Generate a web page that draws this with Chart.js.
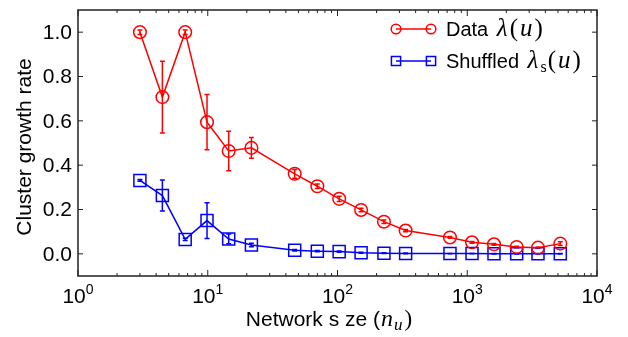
<!DOCTYPE html>
<html>
<head>
<meta charset="utf-8">
<script src="https://cdn.jsdelivr.net/npm/chart.js@4.4.0/dist/chart.umd.min.js"></script>
<style>
  html, body { margin: 0; padding: 0; background: #fff; }
  #wrap { width: 628px; height: 337px; position: relative; }
</style>
</head>
<body>
<div id="wrap"><canvas id="chart"></canvas></div>
<script>
// =============================
// DATOS
// =============================
const sizes = [3, 4.47, 6.7, 9.87, 14.5, 21.7, 46.8, 69.9, 103, 152, 228, 335, 736, 1088, 1607, 2404, 3509, 5213];

const dataRate = [1.0, 0.707, 1.0, 0.594, 0.464, 0.478, 0.361, 0.305, 0.248, 0.198, 0.145, 0.105, 0.074, 0.052, 0.043, 0.031, 0.028, 0.046];
const dataErr  = [0.01, 0.162, 0.01, 0.125, 0.089, 0.047, 0.02, 0.01, 0.012, 0.008, 0.008, 0.005, 0.004, 0.004, 0.004, 0.003, 0.003, 0.008];

const shuffledRate = [0.331, 0.263, 0.065, 0.150, 0.067, 0.040, 0.016, 0.012, 0.010, 0.005, 0.003, 0.002, 0.001, 0.001, 0.0, 0.0, 0.0, 0.0];
const shuffledErr  = [0.004, 0.07, 0.005, 0.081, 0.022, 0.008, 0.003, 0.003, 0.003, 0.002, 0.002, 0.002, 0.001, 0.001, 0.001, 0.001, 0.001, 0.001];

const xTicks = [1, 10, 100, 1000, 10000];
const xTickExp = ["0", "1", "2", "3", "4"];
const yTicks = [0, 0.2, 0.4, 0.6, 0.8, 1.0];
const yTickLabels = ["0.0", "0.2", "0.4", "0.6", "0.8", "1.0"];

const RED = "#ff0000";
const BLUE = "#0000ff";
const SANS = "'Liberation Sans', Arial, sans-serif";
const SERIF = "'Liberation Serif', 'Times New Roman', serif";

// =============================
// UTILIDADES
// =============================
// dibuja una fila de trozos de texto con fuentes distintas
function drawRuns(ctx, x, y, runs, align) {
  let total = 0;
  runs.forEach(r => {
    ctx.font = r.font;
    r.w = ctx.measureText(r.t).width + (r.gap || 0);
    total += r.w;
  });
  let cx = align === "center" ? x - total / 2 : x;
  ctx.textAlign = "left";
  ctx.textBaseline = "alphabetic";
  runs.forEach(r => {
    ctx.font = r.font;
    ctx.fillText(r.t, cx, y + (r.dy || 0));
    cx += r.w;
  });
}

// =============================
// PLUGIN: barras de error
// =============================
const errorBars = {
  id: "errorBars",
  beforeDatasetsDraw(chart) {
    const ctx = chart.ctx;
    const xs = chart.scales.x;
    const ys = chart.scales.y;
    const series = [
      { v: dataRate, e: dataErr, c: RED },
      { v: shuffledRate, e: shuffledErr, c: BLUE }
    ];
    ctx.save();
    ctx.lineWidth = 1.5;
    series.forEach(s => {
      ctx.strokeStyle = s.c;
      s.v.forEach((v, i) => {
        const px = xs.getPixelForValue(sizes[i]);
        const y1 = ys.getPixelForValue(v + s.e[i]);
        const y2 = ys.getPixelForValue(v - s.e[i]);
        ctx.beginPath();
        ctx.moveTo(px, y1); ctx.lineTo(px, y2);
        ctx.moveTo(px - 2.5, y1); ctx.lineTo(px + 2.5, y1);
        ctx.moveTo(px - 2.5, y2); ctx.lineTo(px + 2.5, y2);
        ctx.stroke();
      });
    });
    ctx.restore();
  }
};

// =============================
// PLUGIN: marco, ticks, etiquetas, leyenda
// =============================
const frame = {
  id: "frame",
  afterDraw(chart) {
    const ctx = chart.ctx;
    const a = chart.chartArea;
    const xs = chart.scales.x;
    const ys = chart.scales.y;
    ctx.save();

    // marco
    ctx.strokeStyle = "#222";
    ctx.lineWidth = 1.5;
    ctx.strokeRect(a.left, a.top, a.right - a.left, a.bottom - a.top);

    // ticks x (mayores y menores, hacia adentro)
    ctx.lineWidth = 1;
    ctx.beginPath();
    for (let k = 0; k < 4; k++) {
      for (let m = 2; m <= 9; m++) {
        const px = xs.getPixelForValue(m * Math.pow(10, k));
        ctx.moveTo(px, a.bottom); ctx.lineTo(px, a.bottom - 3);
        ctx.moveTo(px, a.top); ctx.lineTo(px, a.top + 3);
      }
    }
    xTicks.forEach(v => {
      const px = xs.getPixelForValue(v);
      ctx.moveTo(px, a.bottom); ctx.lineTo(px, a.bottom - 6);
      ctx.moveTo(px, a.top); ctx.lineTo(px, a.top + 6);
    });
    yTicks.forEach(v => {
      const py = ys.getPixelForValue(v);
      ctx.moveTo(a.left, py); ctx.lineTo(a.left + 5, py);
      ctx.moveTo(a.right, py); ctx.lineTo(a.right - 5, py);
    });
    ctx.stroke();

    // etiquetas
    ctx.fillStyle = "#000";
    xTicks.forEach((v, i) => {
      const px = xs.getPixelForValue(v);
      drawRuns(ctx, px, 303, [
        { t: "10", font: "21px " + SANS },
        { t: xTickExp[i], font: "14px " + SANS, dy: -9 }
      ], "center");
    });
    ctx.font = "21px " + SANS;
    ctx.textAlign = "right";
    ctx.textBaseline = "middle";
    yTicks.forEach((v, i) => {
      ctx.fillText(yTickLabels[i], 72, ys.getPixelForValue(v) + 1);
    });

    // titulos
    drawRuns(ctx, 329, 326, [
      { t: "Network s ze (", font: "21px " + SANS, gap: 1 },
      { t: "n", font: "italic 24px " + SERIF, gap: 1 },
      { t: "u", font: "italic 17px " + SERIF, dy: 4, gap: 2 },
      { t: ")", font: "23px " + SERIF }
    ], "center");

    ctx.save();
    ctx.translate(31, 147);
    ctx.rotate(-Math.PI / 2);
    ctx.font = "21px " + SANS;
    ctx.textAlign = "center";
    ctx.textBaseline = "alphabetic";
    ctx.fillText("Cluster growth rate", 0, 0);
    ctx.restore();

    // leyenda
    const rows = [
      { y: 29, c: RED, style: "circle", label: "Data", sub: null },
      { y: 61, c: BLUE, style: "rect", label: "Shuffled", sub: "s" }
    ];
    rows.forEach(r => {
      ctx.strokeStyle = r.c;
      ctx.fillStyle = "rgba(0,0,0,0)";
      ctx.lineWidth = 1.5;
      ctx.beginPath();
      ctx.moveTo(396, r.y); ctx.lineTo(431, r.y);
      ctx.stroke();
      [396, 431].forEach(mx => {
        Chart.helpers.drawPoint(ctx, { pointStyle: r.style, radius: r.style === "rect" ? 6.5 : 4.8, borderWidth: 1.5 }, mx, r.y);
      });
      ctx.fillStyle = "#000";
      const runs = [
        { t: r.label + " ", font: "20px " + SANS, gap: 3 },
        { t: "\u03bb", font: "italic 25px " + SERIF, gap: 2 }
      ];
      if (r.sub) runs.push({ t: r.sub, font: "16px " + SERIF, dy: 4, gap: 1 });
      runs.push({ t: "(", font: "25px " + SERIF, gap: 2 });
      runs.push({ t: "u", font: "italic 25px " + SERIF, gap: 2 });
      runs.push({ t: ")", font: "25px " + SERIF });
      drawRuns(ctx, 446, r.y + 7, runs, "left");
    });

    ctx.restore();
  }
};

// =============================
// GRAFICO
// =============================
new Chart(document.getElementById("chart"), {
  type: "line",
  data: {
    datasets: [
      {
        label: "Data",
        data: sizes.map((s, i) => ({ x: s, y: dataRate[i] })),
        borderColor: RED,
        backgroundColor: "transparent",
        borderWidth: 1.5,
        tension: 0,
        pointStyle: "circle",
        pointRadius: 6.3,
        pointBorderWidth: 1.5,
        pointBorderColor: RED,
        pointBackgroundColor: "transparent"
      },
      {
        label: "Shuffled",
        data: sizes.map((s, i) => ({ x: s, y: shuffledRate[i] })),
        borderColor: BLUE,
        backgroundColor: "transparent",
        borderWidth: 1.5,
        tension: 0,
        pointStyle: "rect",
        pointRadius: 8.5,
        pointBorderWidth: 1.5,
        pointBorderColor: BLUE,
        pointBackgroundColor: "transparent"
      }
    ]
  },
  options: {
    responsive: true,
    maintainAspectRatio: false,
    animation: false,
    layout: { padding: { left: 78, right: 31, top: 5, bottom: 61 } },
    plugins: {
      legend: { display: false },
      tooltip: { enabled: false }
    },
    scales: {
      x: { type: "logarithmic", min: 1, max: 10000, display: false },
      y: { type: "linear", min: -0.1, max: 1.1, display: false }
    }
  },
  plugins: [errorBars, frame]
});
</script>
</body>
</html>
